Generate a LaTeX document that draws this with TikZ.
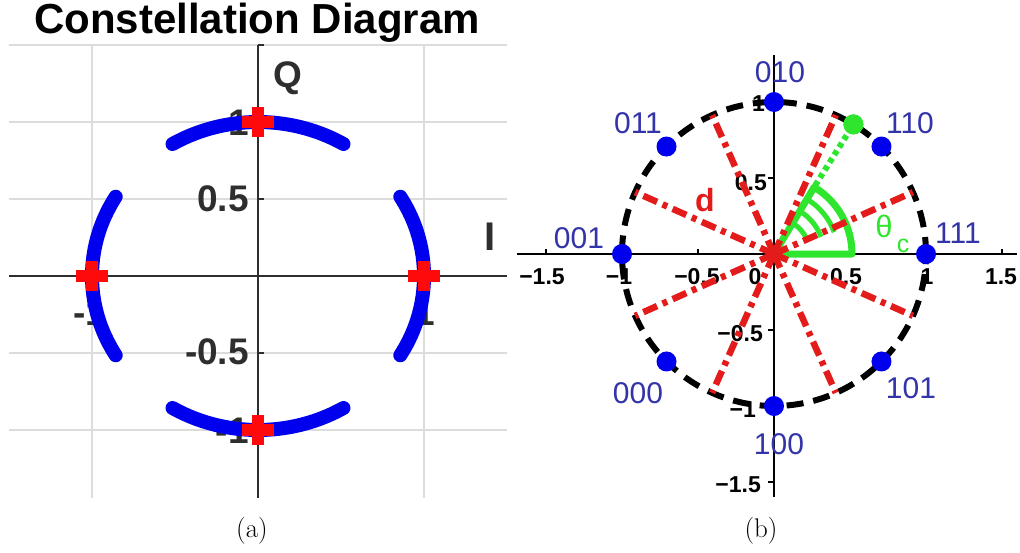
\documentclass[tikz,border=0pt]{standalone}
\usepackage{fontspec}
\usetikzlibrary{calc}
\newfontfamily\lsans{Liberation Sans}
\definecolor{gridgray}{HTML}{DCDCDC}
\definecolor{axgray}{HTML}{2E2E2E}
\definecolor{arcblue}{HTML}{0000EE}
\definecolor{plusred}{HTML}{FF0A0A}
\definecolor{lblblue}{HTML}{3434AA}
\definecolor{linered}{HTML}{E41B1B}
\definecolor{brightgreen}{HTML}{2EE62E}
\tikzset{
  gridline/.style={gridgray, line width=2pt},
  axisline/.style={axgray, line width=2.5pt},
  leftlbl/.style={font=\lsans\bfseries\fontsize{37}{39}\selectfont, text=axgray, inner sep=0pt},
  blobarc/.style={arcblue, line width=14pt, line cap=round},
  plusbar/.style={fill=plusred, draw=none},
  raxis/.style={black, line width=2pt},
  ticklbl/.style={font=\lsans\bfseries\fontsize{23}{25}\selectfont, inner sep=0pt},
  symlbl/.style={font=\lsans\fontsize{30}{32}\selectfont, text=lblblue, inner sep=0pt},
  bluedot/.style={circle, fill=arcblue, minimum size=20pt, inner sep=0pt},
  greendot/.style={circle, fill=brightgreen, minimum size=20pt, inner sep=0pt},
  decline/.style={linered, line width=6.5pt, dash pattern=on 15pt off 6pt on 5pt off 6pt},
  ringline/.style={black, line width=6pt, dash pattern=on 17pt off 10pt},
  sectorline/.style={brightgreen, line width=7pt},
  hatchline/.style={brightgreen, line width=5pt},
  gdotted/.style={brightgreen, line width=6pt, dash pattern=on 5pt off 4pt},
  capt/.style={font=\fontsize{27}{30}\selectfont, inner sep=0pt}
}
\begin{document}
\begin{tikzpicture}[x=1pt,y=-1pt]
\useasboundingbox (0,0) rectangle (1020,552);
\fill[white] (0,0) rectangle (1020,552);

% ---------------- panel (a) ----------------
\node[font=\lsans\bfseries\fontsize{42}{44}\selectfont, anchor=base, inner sep=0pt] (title) at (257,33) {Constellation Diagram};

\begin{scope}[shift={(258pt,-276pt)}, x=166pt, y=154pt]
  \foreach \yy in {1.5,1,0.5,-0.5,-1} \draw[gridline] (-1.5,\yy) -- (1.5,\yy);
  \foreach \xx in {-1,1} \draw[gridline] (\xx,1.5) -- (\xx,-1.44);
  \coordinate (Oa) at (0,0);
  \draw[axisline] (-1.5,0) -- (1.5,0);
  \draw[axisline] (0,1.5) -- (0,-1.44);
  \draw[axisline] (0,1.5) -- ++(6pt,0);
  \draw[axisline] (0,0.5) -- ++(6pt,0);
  \draw[axisline] (0,-0.5) -- ++(6pt,0);
\end{scope}

\node[leftlbl] (lq) at (288,78) {Q};
\node[leftlbl, font=\lsans\bfseries\fontsize{40}{42}\selectfont] (li) at (490,237) {I};
\node[leftlbl, anchor=east] (ly1) at (249,123) {1};
\node[leftlbl, anchor=east] (ly05) at (249,199) {0.5};
\node[leftlbl, anchor=east] (lym05) at (249,352) {-0.5};
\node[leftlbl, anchor=east] (lym1) at (249,431) {-1};
\node[leftlbl] (lxm1) at (90,313) {-1};
\node[leftlbl] (lx1) at (425,313) {1};

\begin{scope}[shift={(258pt,-276pt)}, x=166pt, y=154pt]
  \draw[blobarc] plot[domain=59:121, samples=40] ({cos(\x)},{sin(\x)});
  \draw[blobarc] plot[domain=-31:31, samples=40] ({cos(\x)},{sin(\x)});
  \draw[blobarc] plot[domain=149:211, samples=40] ({cos(\x)},{sin(\x)});
  \draw[blobarc] plot[domain=239:301, samples=40] ({cos(\x)},{sin(\x)});
  \foreach \p in {(0,1),(0,-1),(-1,0),(1,0)} {
    \path[plusbar] \p ++(-16pt,-6pt) rectangle ++(32pt,12pt);
    \path[plusbar] \p ++(-6pt,-15pt) rectangle ++(12pt,30pt);
  }
\end{scope}

\node[capt] (capa) at (252,531) {(a)};

% ---------------- panel (b) ----------------
\begin{scope}[shift={(774pt,-254pt)}, x=152pt, y=152pt]
  \coordinate (O) at (0,0);
  \draw[raxis] (-1.69,0) -- (1.6,0);
  \draw[raxis] (0,1.31) -- (0,-1.6);
  \foreach \t in {-1.5,-1,-0.5,0.5,1,1.5}
    \draw[raxis] (\t,0) -- ++(0,5pt);
  \foreach \t in {-1.5,-1,-0.5,0.5,1}
    \draw[raxis] (0,\t) -- ++(-6pt,0);
\end{scope}

\node[ticklbl] (tx1) at (542,277) {−1.5};
\node[ticklbl] (tx2) at (619,277) {−1};
\node[ticklbl] (tx3) at (697,277) {−0.5};
\node[ticklbl] (tx4) at (755,277) {0};
\node[ticklbl] (tx5) at (846,277) {0.5};
\node[ticklbl] (tx6) at (927,277) {1};
\node[ticklbl] (tx7) at (1001,277) {1.5};
\node[ticklbl, anchor=east] (ty1) at (765,104) {1};
\node[ticklbl, anchor=east] (ty2) at (767,183) {0.5};
\node[ticklbl, anchor=east] (ty3) at (763,334) {−0.5};
\node[ticklbl, anchor=east] (ty4) at (756,410) {−1};
\node[ticklbl, anchor=east] (ty5) at (761,485) {−1.5};

\begin{scope}[shift={(774pt,-254pt)}, x=152pt, y=152pt]
  \draw[ringline] (O) circle[radius=152pt];
  % angle sector
  \foreach \r in {36,50,64}
    \draw[hatchline] ($(O)+(20:\r pt)$) arc[start angle=20, end angle=59, radius=\r pt];
  \draw[sectorline, line join=round] (O) -- ($(O)+(0:78pt)$) arc[start angle=0, end angle=59, radius=78pt] -- cycle;
  \node[greendot] (gdot) at ($(O)+(58.5:152pt)$) {};
  \draw[gdotted] ($(O)+(59:80pt)$) -- (gdot.center);
  \node[greendot] (gdot2) at ($(O)+(58.5:152pt)$) {};
  \foreach \a in {24,66,114,156,204,246,294,336}
    \draw[decline] (O) -- ($(O)+(\a:152pt)$);
  \foreach \a/\n in {0/s111,45/s110,90/s010,135/s011,180/s001,225/s000,270/s100,315/s101}
    \node[bluedot] (\n) at ($(O)+(\a:152pt)$) {};
\end{scope}

\node[symlbl] (l010) at (780,72) {010};
\node[symlbl] (l011) at (638,123) {011};
\node[symlbl] (l110) at (910,123) {110};
\node[symlbl] (l001) at (579,238) {001};
\node[symlbl] (l111) at (958,233) {111};
\node[symlbl] (l000) at (638,393) {000};
\node[symlbl] (l101) at (911,388) {101};
\node[symlbl] (l100) at (779,444) {100};

\node[font=\lsans\bfseries\fontsize{32}{34}\selectfont, text=linered, inner sep=0pt] (dl) at (705,200) {d};
\node[font=\lsans\fontsize{31}{33}\selectfont, text=brightgreen, inner sep=0pt] (th) at (884,226) {θ};
\node[font=\lsans\fontsize{25}{27}\selectfont, text=brightgreen, inner sep=0pt] (thc) at (903,246) {c};

\node[capt] (capb) at (761,531) {(b)};
\end{tikzpicture}
\end{document}
